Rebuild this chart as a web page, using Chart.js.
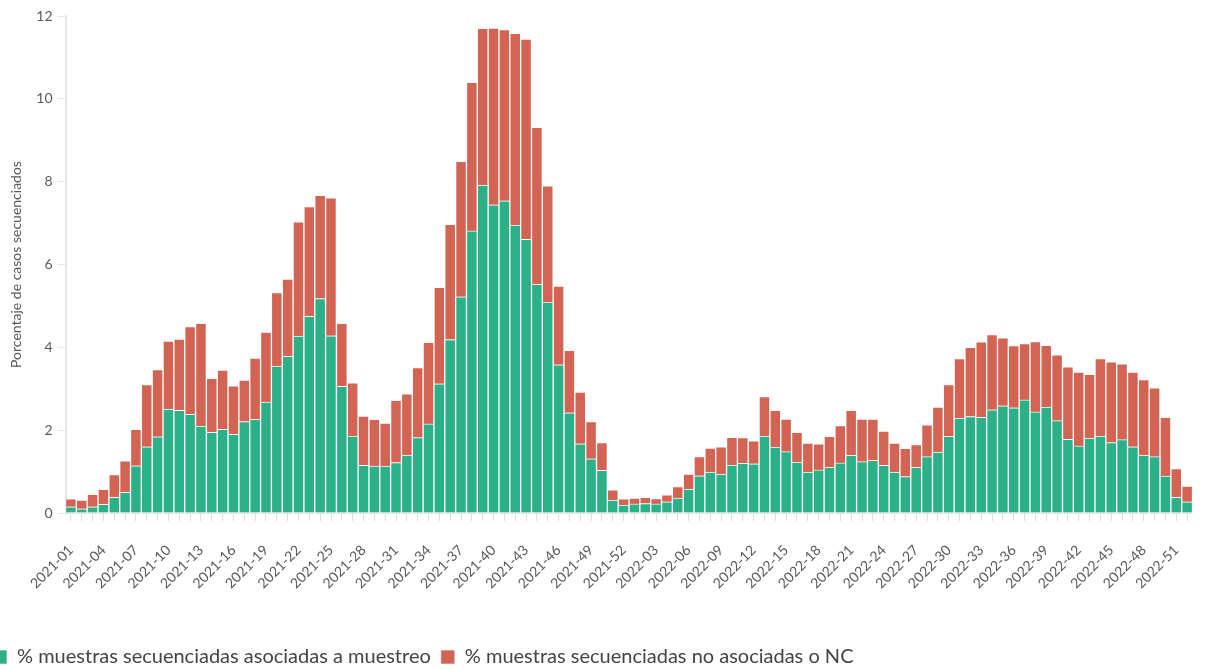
<!DOCTYPE html>
<html>
<head>
<meta charset="utf-8">
<script src="https://cdn.jsdelivr.net/npm/chart.js@4"></script>
<style>
  html, body { margin: 0; padding: 0; background: #fff; overflow: hidden; }
  #wrap { position: absolute; left: -17px; top: 0; width: 1237px; height: 677px; }
</style>
</head>
<body>
<div id="wrap"><canvas id="secChart"></canvas></div>
<script>
// semanas epidemiologicas 2021-01 .. 2022-52
const years = [2021, 2022];
const weeks = [];
years.forEach(function (y) {
    for (let w = 1; w <= 52; w++) {
        weeks.push(y + '-' + String(w).padStart(2, '0'));
    }
});

// % muestras secuenciadas asociadas a muestreo
const asociadas = [
    0.15, 0.10, 0.15, 0.21, 0.38, 0.50, 1.14, 1.60, 1.84, 2.51, 2.48, 2.38, 2.10,
    1.95, 2.02, 1.90, 2.21, 2.26, 2.68, 3.55, 3.78, 4.27, 4.75, 5.18, 4.28, 3.06,
    1.86, 1.15, 1.13, 1.13, 1.22, 1.40, 1.82, 2.15, 3.12, 4.19, 5.22, 6.81, 7.92,
    7.44, 7.54, 6.95, 6.61, 5.52, 5.09, 3.58, 2.42, 1.67, 1.31, 1.03, 0.31, 0.19,
    0.22, 0.23, 0.22, 0.27, 0.36, 0.58, 0.90, 0.99, 0.94, 1.16, 1.20, 1.19, 1.86,
    1.59, 1.48, 1.23, 0.99, 1.04, 1.10, 1.21, 1.39, 1.24, 1.27, 1.15, 0.99, 0.88,
    1.10, 1.36, 1.47, 1.85, 2.29, 2.33, 2.31, 2.49, 2.59, 2.54, 2.73, 2.44, 2.56,
    2.23, 1.78, 1.62, 1.81, 1.86, 1.70, 1.77, 1.60, 1.39, 1.36, 0.89, 0.38, 0.27
];

// % muestras secuenciadas no asociadas o NC
const noAsociadas = [
    0.19, 0.21, 0.30, 0.36, 0.55, 0.76, 0.88, 1.50, 1.62, 1.64, 1.72, 2.12, 2.48,
    1.30, 1.43, 1.17, 1.00, 1.48, 1.69, 1.77, 1.87, 2.76, 2.65, 2.49, 3.33, 1.52,
    1.28, 1.19, 1.13, 1.04, 1.50, 1.48, 1.69, 1.97, 2.33, 2.78, 3.27, 3.59, 3.78,
    4.27, 4.13, 4.63, 4.83, 3.79, 2.81, 1.90, 1.51, 1.25, 0.90, 0.67, 0.25, 0.15,
    0.14, 0.15, 0.13, 0.17, 0.28, 0.36, 0.46, 0.58, 0.66, 0.67, 0.62, 0.55, 0.95,
    0.89, 0.79, 0.72, 0.70, 0.63, 0.75, 0.90, 1.09, 1.03, 1.00, 0.83, 0.70, 0.68,
    0.55, 0.77, 1.09, 1.25, 1.44, 1.67, 1.82, 1.82, 1.64, 1.50, 1.36, 1.70, 1.49,
    1.59, 1.75, 1.78, 1.54, 1.87, 1.95, 1.83, 1.80, 1.83, 1.66, 1.42, 0.69, 0.38
];

const yTicks = [0, 2, 4, 6, 8, 10, 12];

Chart.defaults.font.family = 'Lato, "Noto Sans", sans-serif';
Chart.defaults.color = '#595959';

const ctx = document.getElementById('secChart').getContext('2d');

const data = {
    labels: weeks,
    datasets: [{
        label: '% muestras secuenciadas asociadas a muestreo',
        data: asociadas,
        backgroundColor: '#2cb088',
        borderColor: 'rgba(255,255,255,0.6)',
        borderWidth: 1
    }, {
        label: '% muestras secuenciadas no asociadas o NC',
        data: noAsociadas,
        backgroundColor: '#d36352',
        borderColor: 'rgba(255,255,255,0.6)',
        borderWidth: 1
    }]
};

const config = {
    type: 'bar',
    data: data,
    options: {
        responsive: true,
        maintainAspectRatio: false,
        animation: false,
        datasets: {
            bar: {
                barPercentage: 1,
                categoryPercentage: 1
            }
        },
        layout: {
            padding: { top: 16, right: 0, bottom: 0, left: 0 }
        },
        plugins: {
            tooltip: { enabled: false },
            legend: {
                position: 'bottom',
                align: 'start',
                labels: {
                    boxWidth: 14,
                    boxHeight: 14,
                    padding: 10,
                    color: '#444',
                    font: { size: 20 }
                }
            }
        },
        scales: {
            x: {
                stacked: true,
                afterFit: function (scale) { scale.height = 124; },
                grid: {
                    offset: false,
                    drawOnChartArea: false,
                    tickLength: 8,
                    color: '#dedede'
                },
                border: { color: '#e6e6e6' },
                ticks: {
                    autoSkip: false,
                    minRotation: 45,
                    maxRotation: 45,
                    padding: 21,
                    font: { size: 14 },
                    callback: function (val, i) {
                        return i % 3 === 0 ? weeks[i] : '';
                    }
                }
            },
            y: {
                stacked: true,
                min: 0,
                max: 12,
                afterFit: function (scale) { scale.width = 82.5; },
                afterBuildTicks: function (scale) {
                    scale.ticks = yTicks.map(function (v) { return { value: v }; });
                },
                grid: {
                    drawOnChartArea: false,
                    tickLength: 8,
                    color: '#e6e6e6'
                },
                border: { color: '#e6e6e6', width: 2 },
                ticks: {
                    padding: 5,
                    font: { size: 14 }
                },
                title: {
                    display: true,
                    text: 'Porcentaje de casos secuenciados',
                    color: '#595959',
                    padding: { top: 25, bottom: 0 },
                    font: { size: 14 }
                }
            }
        }
    }
};

const secChart = new Chart(ctx, config);
</script>
</body>
</html>
